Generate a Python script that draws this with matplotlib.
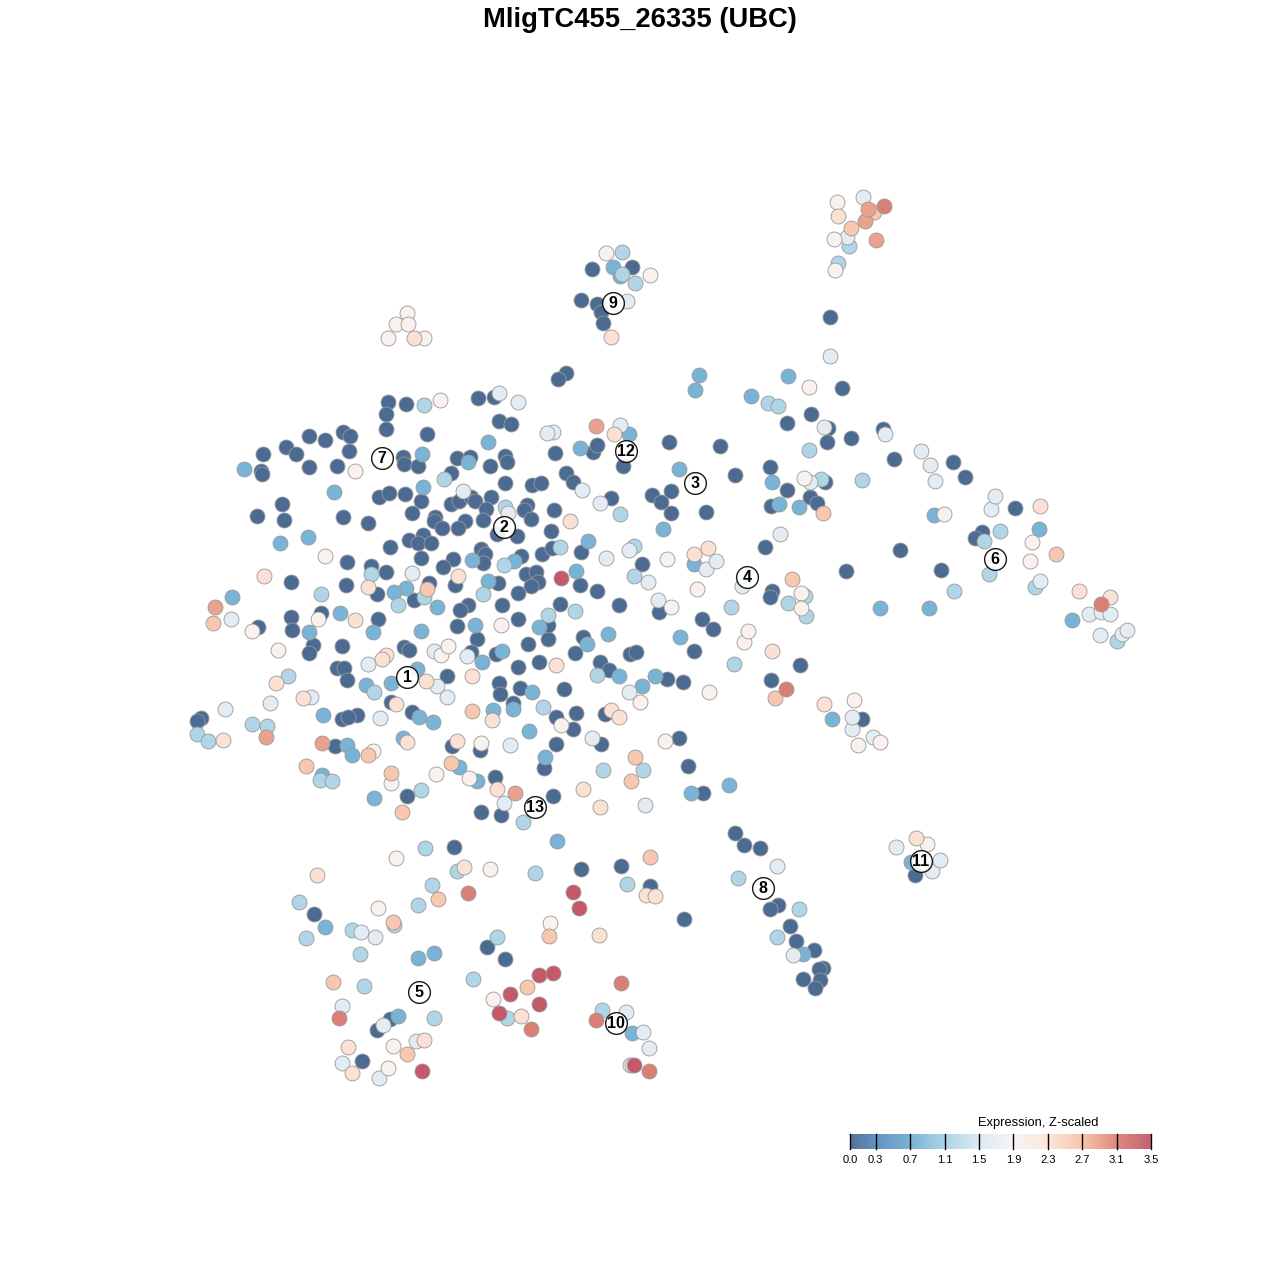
import matplotlib
matplotlib.use('Agg')
import matplotlib.pyplot as plt
import numpy as np
from matplotlib.colors import LinearSegmentedColormap, Normalize

plt.rcParams['font.family'] = ['Liberation Sans', 'DejaVu Sans']

title = 'MligTC455_26335 (UBC)'
legend_title = 'Expression, Z-scaled'
legend_ticks = [0.0, 0.3, 0.7, 1.1, 1.5, 1.9, 2.3, 2.7, 3.1, 3.5]
legend_colors = ['#4c6b92', '#5b8fbf', '#74afd3', '#a9d2e4', '#dde9f2',
                 '#f7f5f4', '#fce5da', '#f7c3a9', '#de8578', '#c4596a']

# cells in embedding coordinates, grouped by expression level
expr_0 = [(830,317),(842,388),(811,414),(787,423),(828,428),(851,438),(827,442),(883,429),(894,459),(953,462),
    (965,477),(720,446),(669,442),(735,475),(770,467),(787,490),(810,497),(817,503),(825,482),(771,506),
    (706,512),(671,491),(652,495),(661,502),(671,513),(765,547),(846,571),(900,550),(941,570),(1015,508),
    (982,532),(975,538),(772,591),(770,597),(702,619),(713,629),(659,612),(694,651),(800,665),(771,680),
    (683,682),(667,679),(862,719),(679,738),(688,766),(703,793),(566,373),(558,379),(478,398),(494,397),
    (499,421),(511,424),(388,402),(386,414),(406,404),(386,429),(427,434),(343,432),(350,436),(325,440),
    (309,436),(286,447),(296,454),(263,454),(261,471),(262,474),(309,467),(337,466),(349,451),(403,457),
    (404,464),(418,466),(457,458),(470,457),(490,466),(505,456),(507,462),(555,453),(593,452),(597,445),
    (623,466),(451,473),(505,483),(532,485),(541,483),(566,473),(573,482),(611,498),(379,497),(389,493),
    (405,494),(421,501),(451,504),(459,501),(471,497),(475,501),(491,497),(486,509),(527,505),(524,510),
    (554,510),(412,513),(435,517),(434,521),(442,528),(465,521),(458,528),(483,520),(531,519),(551,531),
    (368,523),(423,535),(409,540),(418,543),(431,543),(390,547),(497,534),(517,536),(481,549),(485,554),
    (483,563),(521,556),(542,554),(552,548),(581,552),(421,558),(453,559),(443,567),(371,566),(386,572),
    (526,574),(536,572),(538,582),(531,586),(580,585),(597,591),(429,583),(455,585),(498,583),(518,593),
    (377,594),(414,600),(502,605),(560,604),(468,605),(460,610),(378,619),(518,619),(548,639),(548,625),
    (457,626),(477,639),(528,644),(575,653),(583,637),(404,647),(409,650),(471,652),(496,654),(518,667),
    (539,662),(447,676),(499,683),(600,662),(630,654),(636,652),(609,670),(500,694),(520,688),(564,689),
    (513,703),(412,712),(391,702),(357,715),(556,717),(576,713),(573,729),(605,714),(601,744),(556,744),
    (452,746),(480,750),(544,768),(495,777),(407,796),(553,796),(481,812),(501,815),(282,504),(284,520),
    (257,516),(343,517),(347,562),(346,585),(291,582),(291,617),(292,630),(321,613),(258,627),(313,645),
    (309,653),(342,646),(337,668),(344,668),(347,680),(335,746),(342,719),(348,717),(201,718),(197,721),
    (454,847),(581,869),(621,866),(650,886),(684,919),(735,833),(744,845),(760,848),(778,905),(770,909),
    (790,926),(796,941),(814,950),(823,968),(819,969),(820,980),(815,988),(803,979),(314,914),(487,947),
    (505,959),(362,1061),(390,1019),(377,1030),(915,875),(592,269),(632,267),(581,300),(597,304),(601,312),
    (603,323),(642,564),(619,605)]
expr_1 = [(699,375),(695,390),(788,376),(751,396),(244,469),(334,492),(308,537),(280,543),(232,597),(488,442),
    (580,448),(629,434),(468,462),(422,454),(679,469),(772,482),(779,504),(799,507),(663,529),(694,564),
    (1039,529),(1072,620),(880,608),(929,608),(340,613),(309,632),(373,632),(421,631),(437,607),(475,625),
    (406,588),(394,592),(423,487),(472,560),(488,581),(514,561),(588,541),(576,571),(539,627),(608,634),
    (680,637),(482,662),(502,651),(619,676),(655,676),(642,686),(532,692),(417,669),(391,683),(366,685),
    (323,715),(419,717),(433,722),(493,710),(513,709),(403,738),(347,745),(352,755),(529,731),(545,757),
    (374,798),(477,781),(459,767),(691,793),(729,785),(557,841),(325,927),(418,958),(434,953),(803,954),
    (398,1016),(632,1033),(832,719),(911,862),(587,644),(613,267),(620,276),(934,515),(322,775)]
expr_2 = [(424,405),(768,403),(778,406),(809,450),(821,479),(862,480),(620,514),(444,479),(634,576),(634,546),
    (1000,531),(984,541),(989,574),(954,591),(1035,587),(1117,641),(788,603),(731,607),(806,616),(734,664),
    (838,263),(849,246),(622,252),(622,274),(635,283),(288,676),(267,726),(252,724),(197,734),(208,741),
    (320,780),(332,781),(394,925),(352,930),(360,954),(364,986),(306,938),(299,902),(418,905),(432,885),
    (425,848),(457,871),(535,873),(627,884),(738,878),(799,909),(777,937),(473,979),(497,937),(507,1018),
    (434,1018),(602,1010),(523,822),(643,770),(603,770),(543,707),(597,675),(575,611),(548,615),(483,594),
    (505,507),(504,565),(424,597),(371,574),(321,594),(398,605),(374,692),(421,790),(560,547),(805,596)]
expr_3 = [(830,356),(885,434),(620,425),(553,432),(547,433),(518,402),(499,393),(463,491),(508,513),(600,503),
    (780,534),(991,509),(995,496),(1040,581),(1100,635),(1089,614),(1101,612),(1110,614),(1122,634),
    (1127,630),(921,451),(930,465),(935,481),(824,427),(706,569),(716,561),(629,550),(606,558),(648,582),
    (658,600),(645,805),(592,738),(510,745),(447,697),(380,718),(270,703),(225,709),(231,619),(412,573),
    (434,651),(467,656),(368,664),(311,697),(629,692),(852,729),(852,717),(873,737),(896,847),(932,871),
    (940,860),(777,866),(793,955),(649,1048),(643,1032),(626,1012),(416,1041),(383,1025),(342,1063),(375,937),
    (361,932),(504,803),(742,586),(847,237),(437,686),(582,490),(863,197),(627,301),(810,482),(379,1078),
    (342,1006)]
expr_4 = [(809,387),(440,400),(837,202),(834,239),(835,270),(606,253),(650,275),(407,313),(396,324),
    (408,324),(388,338),(424,338),(355,471),(325,556),(318,619),(278,650),(252,631),
    (441,655),(448,646),(501,625),(667,559),(697,589),(671,607),(744,642),(748,631),(640,702),
    (709,692),(854,700),(858,745),(880,742),(1030,561),(1032,542),(665,741),(561,725),(481,743),(436,774),
    (391,783),(469,778),(396,858),(490,869),(550,923),(378,908),(493,999),(388,1068),
    (630,1065),(632,1065),(927,844),(804,478),(801,593),(801,608),(944,514),(393,1046),(373,751)]
expr_5 = [(614,434),(570,521),(458,576),(694,554),(708,548),(1040,506),(838,216),(772,651),(824,704),
    (916,838),(352,1073),(348,1047),(424,1040),(521,1016),(368,587),(386,655),(382,659),(426,681),
    (472,676),(396,704),(407,742),(492,720),(611,710),(619,717),(497,789),(583,789),(600,807),(317,875),
    (464,867),(556,665),(646,895),(655,896),(599,935),(1079,591),(1110,597),(223,740),(276,683),(303,698),
    (457,741),(611,337),(264,576),(355,620),(414,338)]
expr_5b = [(851,228),(874,212),(527,987),(792,579),(1056,554),(823,513),(635,757),(631,781),(402,812),(391,773),
    (451,763),(472,711),(368,755),(306,766),(213,623),(438,899),(393,922),(549,936),(650,857),(407,1054),
    (333,982),(775,698),(427,589)]
expr_6 = [(515,793),(266,737),(215,607),(596,426),(865,221),(868,209),(876,240),(322,743)]
expr_7 = [(884,206),(786,689),(1101,604),(468,893),(339,1018),(531,1029),(621,983),(596,1020),(649,1071)]
expr_8 = [(561,578),(573,892),(579,908),(539,975),(553,973),(510,994),(539,1004),(499,1013),(634,1065),(422,1071)]

levels = [0.0, 0.75, 1.15, 1.6, 2.0, 2.35, 2.65, 2.9, 3.15, 3.5]
groups = [expr_0, expr_1, expr_2, expr_3, expr_4, expr_5, expr_5b, expr_6, expr_7, expr_8]

cluster_ids = ['1', '2', '3', '4', '5', '6', '7', '8', '9', '10', '11', '12', '13']
cluster_x = [407, 504, 695, 747, 419, 995, 382, 763, 613, 616, 921, 626, 535]
cluster_y = [677, 527, 483, 577, 992, 559, 458, 888, 303, 1023, 861, 451, 807]

cmap = LinearSegmentedColormap.from_list('expr', list(zip(np.array(legend_ticks) / 3.5, legend_colors)))
norm = Normalize(0, 3.5)

fig = plt.figure(figsize=(12.8, 12.8), dpi=100)
ax = fig.add_axes([0, 0, 1, 1])
ax.set_xlim(0, 1280)
ax.set_ylim(1280, 0)
ax.axis('off')

for level, group in zip(levels, groups):
    pts = np.array(group)
    ax.scatter(pts[:, 0], pts[:, 1], s=116, color=cmap(norm(level)),
               edgecolors='#999999', linewidths=0.6, zorder=2)

ax.scatter(cluster_x, cluster_y, s=245, color='white', alpha=0.9, edgecolors='black', linewidths=1.0, zorder=3)
for lab, x, y in zip(cluster_ids, cluster_x, cluster_y):
    ax.text(x, y + 0.5, lab, ha='center', va='center', fontsize=11.5, fontweight='bold', zorder=4)

ax.text(640, 20, title, ha='center', va='center', fontsize=19.7, fontweight='bold')

# colour key
cax = fig.add_axes([850 / 1280, 1 - 1149 / 1280, 301 / 1280, 15 / 1280])
grad = np.linspace(0, 3.5, 600).reshape(1, -1)
cax.imshow(grad, cmap=cmap, norm=norm, aspect='auto', extent=[0, 3.5, 0, 1], alpha=0.95)
cax.set_yticks([])
cax.set_xticks(legend_ticks)
cax.set_xticklabels([f'{t:.1f}' for t in legend_ticks], fontsize=8)
cax.tick_params(axis='x', length=0, pad=4)
for t in legend_ticks:
    cax.axvline(t, color='black', lw=1.0, clip_on=False)
for s in cax.spines.values():
    s.set_visible(False)
ax.text(1038.5, 1123, legend_title, ha='center', va='center', fontsize=9.3)

fig.savefig('out.png', dpi=100)
